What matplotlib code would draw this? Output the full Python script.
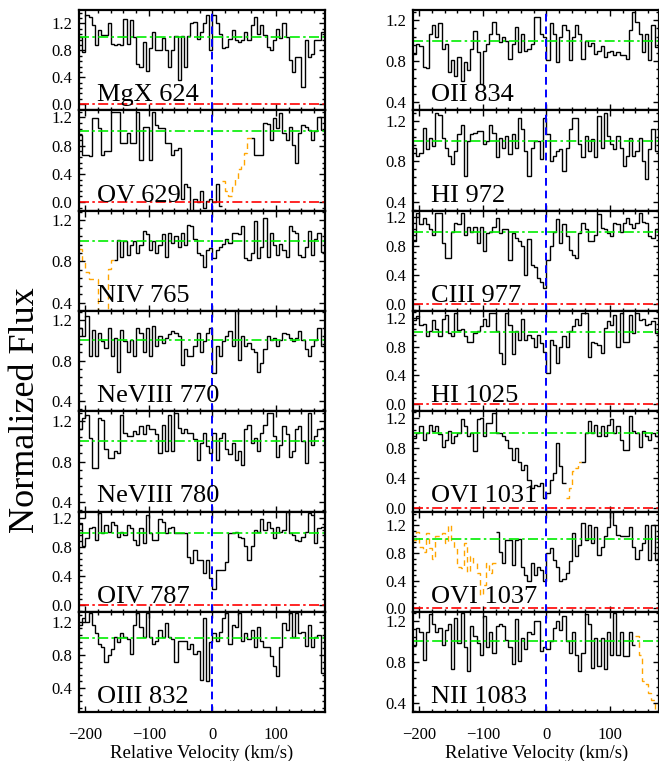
import numpy as np
import matplotlib
matplotlib.use("Agg")
import matplotlib.pyplot as plt
from matplotlib.ticker import MultipleLocator, FormatStrFormatter, AutoMinorLocator

plt.rcParams['font.family'] = ['Liberation Serif', 'DejaVu Serif']

# velocity grid of the spectra (km/s): first bin edge and bin width
V0 = -210.0
DV = 5.0

# normalized flux per 5 km/s bin
mgx624 = [1.00, 0.78, 1.32, 1.30, 1.17, 0.88, 1.10, 1.03, 1.03, 1.20,
          0.90, 0.88, 0.90, 0.88, 1.27, 0.90, 1.25, 1.00, 0.60, 0.55,
          0.93, 0.50, 0.83, 1.07, 0.80, 0.80, 0.98, 0.80, 0.55, 0.80,
          1.02, 0.36, 1.02, 0.55, 1.02, 1.20, 1.22, 0.97, 1.07, 1.20,
          1.32, 0.80, 1.32, 1.20, 1.05, 0.83, 0.85, 0.97, 1.10, 0.95,
          0.93, 0.95, 1.07, 0.95, 1.17, 1.30, 1.05, 1.17, 1.03, 0.85,
          0.80, 0.95, 1.12, 0.98, 1.20, 1.00, 0.65, 0.48, 0.70, 0.70,
          0.26, 0.95, 0.70, 0.75, 0.95, 0.95, 1.07, 1.07]
ov629 = [0.95, 0.67, 0.67, 0.65, 1.19, 1.19, 1.05, 0.67, 0.72, 0.72,
         1.28, 1.28, 1.28, 0.84, 0.84, 0.98, 0.84, 0.84, 1.28, 0.60,
         1.07, 1.07, 0.60, 1.28, 1.09, 1.05, 1.05, 0.84, 0.84, 0.67,
         0.74, 0.77, 0.05, 0.26, 0.21, -0.14, 0.05, 0.00, 0.16, -0.09,
         0.02, 0.04, 0.00, 0.25, -0.05, 0.30, 0.16, 0.09, 0.21, 0.33,
         0.47, 0.51, 0.70, 0.91, 0.91, 0.67, 0.67, 0.67, 1.12, 1.10,
         0.88, 1.19, 1.05, 1.26, 0.98, 0.88, 1.07, 0.81, 0.56, 0.98,
         1.09, 1.07, 1.02, 0.88, 1.00, 1.21, 1.02, 1.02]
niv765 = [0.92, 0.79, 0.70, 0.63, 0.63, 0.63, 0.30, 0.30, 0.30, 0.73,
          0.81, 0.81, 1.01, 0.84, 1.00, 0.86, 0.96, 1.00, 0.88, 0.96,
          1.09, 1.06, 0.91, 1.00, 0.88, 0.96, 1.06, 0.84, 1.07, 0.98,
          1.04, 0.94, 1.07, 0.96, 1.15, 1.14, 1.02, 0.88, 0.86, 0.74,
          0.91, 0.93, 0.83, 0.91, 0.94, 0.97, 1.02, 0.98, 1.07, 1.07,
          1.06, 1.14, 0.83, 0.81, 0.88, 1.19, 0.83, 0.94, 1.22, 0.84,
          1.07, 0.96, 0.86, 0.97, 0.91, 0.84, 1.14, 1.09, 1.07, 0.86,
          0.84, 0.94, 1.09, 0.86, 1.02, 1.07, 0.89, 0.89]
nev770 = [1.12, 1.04, 1.24, 0.84, 1.10, 0.84, 1.07, 0.99, 0.92, 1.12,
          0.84, 1.02, 0.69, 1.10, 0.99, 0.88, 1.00, 0.84, 1.12, 1.07,
          0.88, 1.12, 0.84, 1.14, 0.94, 1.04, 0.97, 1.02, 1.06, 1.09,
          1.07, 1.04, 0.76, 0.91, 0.84, 0.84, 0.94, 1.07, 0.88, 0.99,
          1.07, 1.12, 0.68, 0.94, 0.84, 0.99, 1.04, 1.09, 0.94, 1.30,
          0.81, 1.04, 0.94, 0.97, 0.91, 0.88, 0.69, 0.78, 0.91, 1.04,
          1.00, 1.02, 0.94, 1.00, 1.07, 1.06, 1.02, 0.99, 1.02, 1.09,
          1.00, 0.91, 0.84, 0.94, 1.00, 1.12, 0.94, 0.94]
nev780 = [1.12, 1.23, 1.26, 1.03, 0.74, 0.74, 1.23, 1.21, 0.92, 0.84,
          0.84, 0.90, 0.88, 1.26, 1.08, 1.05, 1.05, 1.10, 1.07, 1.15,
          1.07, 1.16, 1.12, 1.12, 1.07, 0.88, 1.16, 0.90, 1.26, 0.90,
          1.28, 1.13, 1.08, 1.12, 1.08, 1.08, 1.02, 0.82, 0.98, 1.08,
          0.95, 0.88, 1.08, 0.82, 1.03, 1.08, 0.92, 0.87, 0.98, 0.82,
          0.90, 0.77, 1.12, 1.16, 0.98, 1.03, 0.90, 1.08, 1.16, 1.28,
          1.28, 1.05, 0.85, 0.96, 1.15, 1.07, 0.85, 0.90, 1.12, 1.15,
          1.00, 0.79, 1.28, 0.96, 1.05, 1.12, 1.13, 1.13]
oiv787 = [1.13, 0.81, 0.92, 1.06, 1.08, 0.90, 1.27, 0.99, 1.10, 1.01,
          1.15, 1.10, 0.94, 1.01, 0.97, 1.10, 1.06, 0.90, 0.83, 1.06,
          0.85, 1.24, 0.99, 0.90, 0.90, 1.18, 1.15, 0.99, 1.06, 1.08,
          0.99, 0.99, 0.99, 0.99, 0.67, 0.58, 0.76, 0.62, 0.62, 0.44,
          0.62, 0.37, 0.23, 0.48, 0.48, 0.48, 0.60, 0.99, 0.99, 1.01,
          0.94, 0.92, 0.81, 0.62, 0.81, 1.04, 1.01, 1.18, 1.04, 1.15,
          1.06, 0.92, 1.08, 1.01, 1.04, 1.29, 0.99, 0.97, 0.90, 0.88,
          0.94, 1.01, 1.27, 1.24, 0.85, 1.06, 1.08, 1.08]
oiii832 = [1.16, 1.24, 1.20, 1.30, 1.16, 1.06, 0.93, 0.89, 0.71, 0.80,
           0.87, 1.02, 0.95, 1.06, 1.02, 0.99, 0.81, 1.16, 1.30, 1.14,
           1.02, 1.30, 1.02, 0.93, 0.97, 1.10, 1.02, 1.18, 1.02, 0.99,
           0.71, 0.97, 0.97, 0.97, 0.87, 0.93, 0.81, 0.85, 0.50, 1.24,
           0.48, 0.95, 1.06, 0.97, 1.08, 1.24, 1.30, 0.93, 1.16, 1.14,
           1.30, 0.97, 1.06, 0.99, 1.10, 0.89, 1.14, 0.97, 0.89, 0.89,
           0.79, 0.67, 0.54, 0.89, 1.18, 1.10, 1.30, 1.02, 1.30, 1.06,
           1.08, 0.91, 1.16, 0.89, 1.02, 1.04, 0.58, 0.58]
oii834 = [0.87, 0.97, 0.95, 0.74, 0.73, 1.07, 1.15, 1.04, 1.17, 0.92,
          0.97, 0.69, 0.81, 0.66, 0.84, 0.61, 0.79, 0.71, 0.92, 1.09,
          0.89, 0.58, 0.90, 0.97, 1.07, 1.18, 1.07, 0.99, 1.04, 1.00,
          0.82, 0.97, 1.13, 0.89, 1.07, 0.90, 0.92, 0.97, 1.23, 1.23,
          1.07, 1.04, 0.81, 1.17, 1.07, 0.79, 1.04, 1.15, 1.10, 0.81,
          1.04, 1.15, 1.07, 0.82, 1.00, 0.95, 0.98, 0.87, 0.90, 0.95,
          0.84, 0.89, 0.90, 0.86, 0.89, 0.86, 0.86, 0.82, 1.10, 1.28,
          1.18, 1.07, 0.89, 1.07, 0.81, 1.15, 0.94, 0.94]
hi972 = [0.93, 0.85, 0.88, 1.13, 0.92, 1.03, 0.95, 1.28, 1.26, 1.03,
         0.93, 0.85, 0.77, 0.90, 1.07, 1.16, 0.65, 1.00, 1.07, 1.08,
         1.10, 1.10, 0.97, 1.00, 1.16, 1.08, 0.84, 1.03, 0.93, 1.05,
         0.87, 1.07, 0.93, 1.23, 1.12, 0.90, 0.65, 0.93, 1.00, 1.00,
         0.82, 1.23, 1.07, 0.80, 0.85, 0.90, 0.92, 0.70, 0.93, 1.12,
         1.23, 1.23, 0.97, 0.84, 1.05, 0.90, 1.02, 0.84, 1.25, 0.93,
         1.28, 1.05, 0.97, 0.92, 1.05, 0.93, 0.75, 0.85, 1.03, 0.85,
         0.90, 1.03, 0.80, 0.62, 0.92, 1.12, 0.90, 0.90]
ciii977 = [0.87, 1.26, 1.10, 1.19, 1.10, 1.03, 0.96, 1.26, 1.26, 0.84,
           0.64, 0.64, 1.00, 1.12, 1.10, 1.26, 0.96, 1.07, 1.00, 1.07,
           0.84, 1.07, 0.73, 0.98, 1.00, 1.07, 1.19, 0.98, 1.03, 1.03,
           0.61, 0.98, 0.91, 0.87, 0.80, 0.41, 0.90, 0.54, 0.52, 0.36,
           0.31, 0.22, 0.61, 0.80, 1.00, 1.17, 0.84, 1.10, 0.94, 0.75,
           0.68, 0.64, 0.98, 1.12, 1.03, 0.87, 0.87, 0.96, 1.24, 1.05,
           1.03, 0.98, 0.94, 1.12, 1.10, 1.00, 1.12, 1.19, 1.10, 1.05,
           1.12, 1.26, 1.14, 1.12, 0.94, 0.91, 1.03, 1.03]
hi1025 = [1.17, 1.22, 1.10, 1.12, 0.94, 1.01, 1.17, 1.05, 0.94, 1.19,
          1.24, 0.99, 0.94, 1.26, 1.03, 1.05, 0.94, 0.87, 0.87, 0.99,
          1.01, 1.08, 1.19, 1.08, 1.26, 1.26, 1.01, 0.71, 0.55, 1.26,
          1.10, 0.69, 1.01, 0.89, 1.19, 0.89, 0.96, 0.92, 0.80, 0.96,
          0.85, 0.73, 0.43, 0.89, 0.82, 0.57, 0.80, 0.94, 0.80, 1.01,
          1.08, 1.19, 1.10, 1.26, 1.26, 0.66, 0.87, 0.85, 0.82, 0.71,
          1.06, 1.15, 1.10, 1.24, 0.80, 1.26, 0.87, 0.87, 1.24, 0.99,
          1.26, 1.17, 1.19, 1.10, 1.12, 1.15, 0.99, 0.55]
ovi1031 = [0.93, 1.00, 1.09, 0.91, 1.00, 1.11, 1.02, 1.09, 0.98, 0.82,
           0.91, 1.02, 0.87, 0.96, 1.00, 1.18, 1.09, 0.96, 1.00, 0.76,
           1.18, 1.20, 0.96, 1.13, 1.13, 1.27, 1.00, 1.00, 0.96, 0.91,
           0.80, 0.64, 0.80, 0.62, 0.51, 0.58, 0.38, 0.27, 0.31, 0.29,
           0.33, 0.13, 0.20, 0.38, 0.47, 0.87, 0.56, 0.33, 0.13, 0.27,
           0.49, 0.53, 0.62, 0.62, 1.00, 1.16, 1.00, 1.11, 0.96, 1.09,
           0.96, 1.11, 1.18, 1.00, 1.09, 0.91, 0.78, 0.78, 1.22, 1.02,
           1.00, 0.82, 1.02, 0.96, 0.91, 1.00, 0.96, 0.96]
ovi1037 = [0.99, 1.11, 0.89, 0.82, 1.09, 0.87, 0.72, 1.04, 1.04, 1.09,
           0.94, 1.20, 0.99, 0.87, 0.60, 0.58, 0.94, 0.53, 0.75, 0.65,
           0.51, 0.19, 0.34, 0.65, 0.51, 0.65, 1.11, 0.82, 0.65, 0.99,
           0.99, 0.63, 0.99, 1.00, 0.60, 0.48, 0.39, 0.65, 0.48, 0.60,
           0.56, 0.39, 0.80, 0.87, 0.70, 0.60, 0.39, 0.43, 0.51, 0.68,
           1.09, 0.75, 0.92, 1.23, 0.99, 1.21, 0.94, 1.18, 0.77, 0.89,
           1.04, 1.18, 1.40, 1.21, 1.06, 1.04, 1.04, 1.04, 1.18, 0.89,
           0.72, 0.85, 0.94, 1.21, 0.70, 1.21, 0.70, 0.89]
nii1083 = [0.97, 1.13, 1.09, 0.82, 1.09, 1.27, 1.17, 1.09, 1.13, 0.97,
           1.11, 1.17, 0.73, 1.23, 0.99, 1.28, 0.95, 0.71, 1.15, 1.05,
           0.99, 0.87, 1.25, 0.95, 1.09, 0.89, 1.15, 1.17, 1.15, 1.01,
           0.95, 0.78, 1.22, 0.81, 1.03, 0.93, 1.09, 1.07, 1.20, 1.20,
           0.91, 0.95, 0.93, 1.00, 1.13, 1.20, 1.11, 1.25, 1.00, 0.89,
           1.09, 0.87, 0.71, 0.89, 1.27, 1.17, 0.74, 1.03, 0.76, 1.03,
           0.73, 1.09, 0.87, 1.28, 0.87, 1.09, 0.86, 0.86, 1.09, 0.97,
           1.05, 0.87, 0.61, 0.58, 0.50, 0.43, 0.33, 0.33]

left_names = ['MgX 624', 'OV 629', 'NIV 765', 'NeVIII 770', 'NeVIII 780', 'OIV 787', 'OIII 832']
left_flux = [mgx624, ov629, niv765, nev770, nev780, oiv787, oiii832]
left_blend = [None, (15, 60), (-215, -155), None, None, None, None]
left_ylim = [(-0.09, 1.40), (-0.12, 1.30), (0.32, 1.29), (0.30, 1.29),
             (0.31, 1.295), (-0.09, 1.29), (0.11, 1.32)]

right_names = ['OII 834', 'HI 972', 'CIII 977', 'HI 1025', 'OVI 1031', 'OVI 1037', 'NII 1083']
right_flux = [oii834, hi972, ciii977, hi1025, ovi1031, ovi1037, nii1083]
right_blend = [None, None, None, None, (30, 55), (-215, -80), (140, 185)]
right_ylim = [(0.32, 1.30), (0.31, 1.305), (-0.09, 1.29), (-0.10, 1.296),
              (-0.045, 1.29), (-0.05, 1.40), (0.31, 1.29)]

XLIM = (-210, 177)


def draw_spectrum(ax, flux, blend):
    flux = np.asarray(flux, dtype=float)
    edges = V0 + DV * np.arange(len(flux) + 1)
    centers = edges[:-1] + DV / 2
    if blend is None:
        inside = np.zeros(len(flux), dtype=bool)
    else:
        inside = (centers > blend[0]) & (centers < blend[1])
    idx = np.arange(len(flux))
    styles = [(~inside, dict(color='black', lw=1.0)),
              (inside, dict(color='orange', lw=1.0, ls=(0, (4, 3))))]
    for mask, kw in styles:
        sel = idx[mask]
        if len(sel) == 0:
            continue
        for run in np.split(sel, np.where(np.diff(sel) != 1)[0] + 1):
            ax.stairs(flux[run[0]:run[-1] + 1], edges[run[0]:run[-1] + 2],
                      baseline=None, **kw)


fig = plt.figure(figsize=(6.59, 7.61), dpi=100)
W, H = 659.0, 761.0
top_px = 10.0
panel_px = 100.3
col_left = [79.0, 413.0]
col_w = 246.0

columns = [(left_names, left_flux, left_blend, left_ylim),
           (right_names, right_flux, right_blend, right_ylim)]

for c, (names, fluxes, blends, ylims) in enumerate(columns):
    for i in range(7):
        y_bot = top_px + panel_px * (i + 1)
        ax = fig.add_axes([col_left[c] / W, 1 - y_bot / H, col_w / W, panel_px / H])
        draw_spectrum(ax, fluxes[i], blends[i])
        ax.axhline(1.0, color='#00ee00', ls=(0, (6, 2, 1.5, 2)), lw=1.2)
        ax.axhline(0.0, color='red', ls=(0, (6, 2, 1.5, 2)), lw=1.2)
        ax.axvline(0.0, color='blue', ls=(0, (4, 2.5)), lw=1.4)
        ax.set_xlim(*XLIM)
        ax.set_ylim(*ylims[i])
        ax.xaxis.set_major_locator(MultipleLocator(100))
        ax.xaxis.set_minor_locator(MultipleLocator(20))
        ax.yaxis.set_major_locator(MultipleLocator(0.4))
        ax.yaxis.set_minor_locator(AutoMinorLocator(5))
        ax.yaxis.set_major_formatter(FormatStrFormatter('%.1f'))
        ax.tick_params(which='both', direction='in', top=True, right=True,
                       labelsize=12, width=1.0)
        ax.tick_params(axis='y', pad=5)
        ax.tick_params(axis='x', pad=11)
        ax.tick_params(which='major', length=4)
        ax.tick_params(which='minor', length=2)
        if i < 6:
            ax.tick_params(labelbottom=False)
        for sp in ax.spines.values():
            sp.set_linewidth(1.6)
        ax.text(0.072, 0.09, names[i], transform=ax.transAxes, fontsize=19,
                ha='left', va='baseline')

fig.text(0.038, 1 - 410 / H, 'Normalized Flux', rotation=90, fontsize=26,
         ha='center', va='center')
fig.text(202 / W, 1 - 753 / H, 'Relative Velocity (km/s)', fontsize=13.5,
         ha='center', va='center')
fig.text(537 / W, 1 - 753 / H, 'Relative Velocity (km/s)', fontsize=13.5,
         ha='center', va='center')

fig.savefig('out.png', dpi=100)
